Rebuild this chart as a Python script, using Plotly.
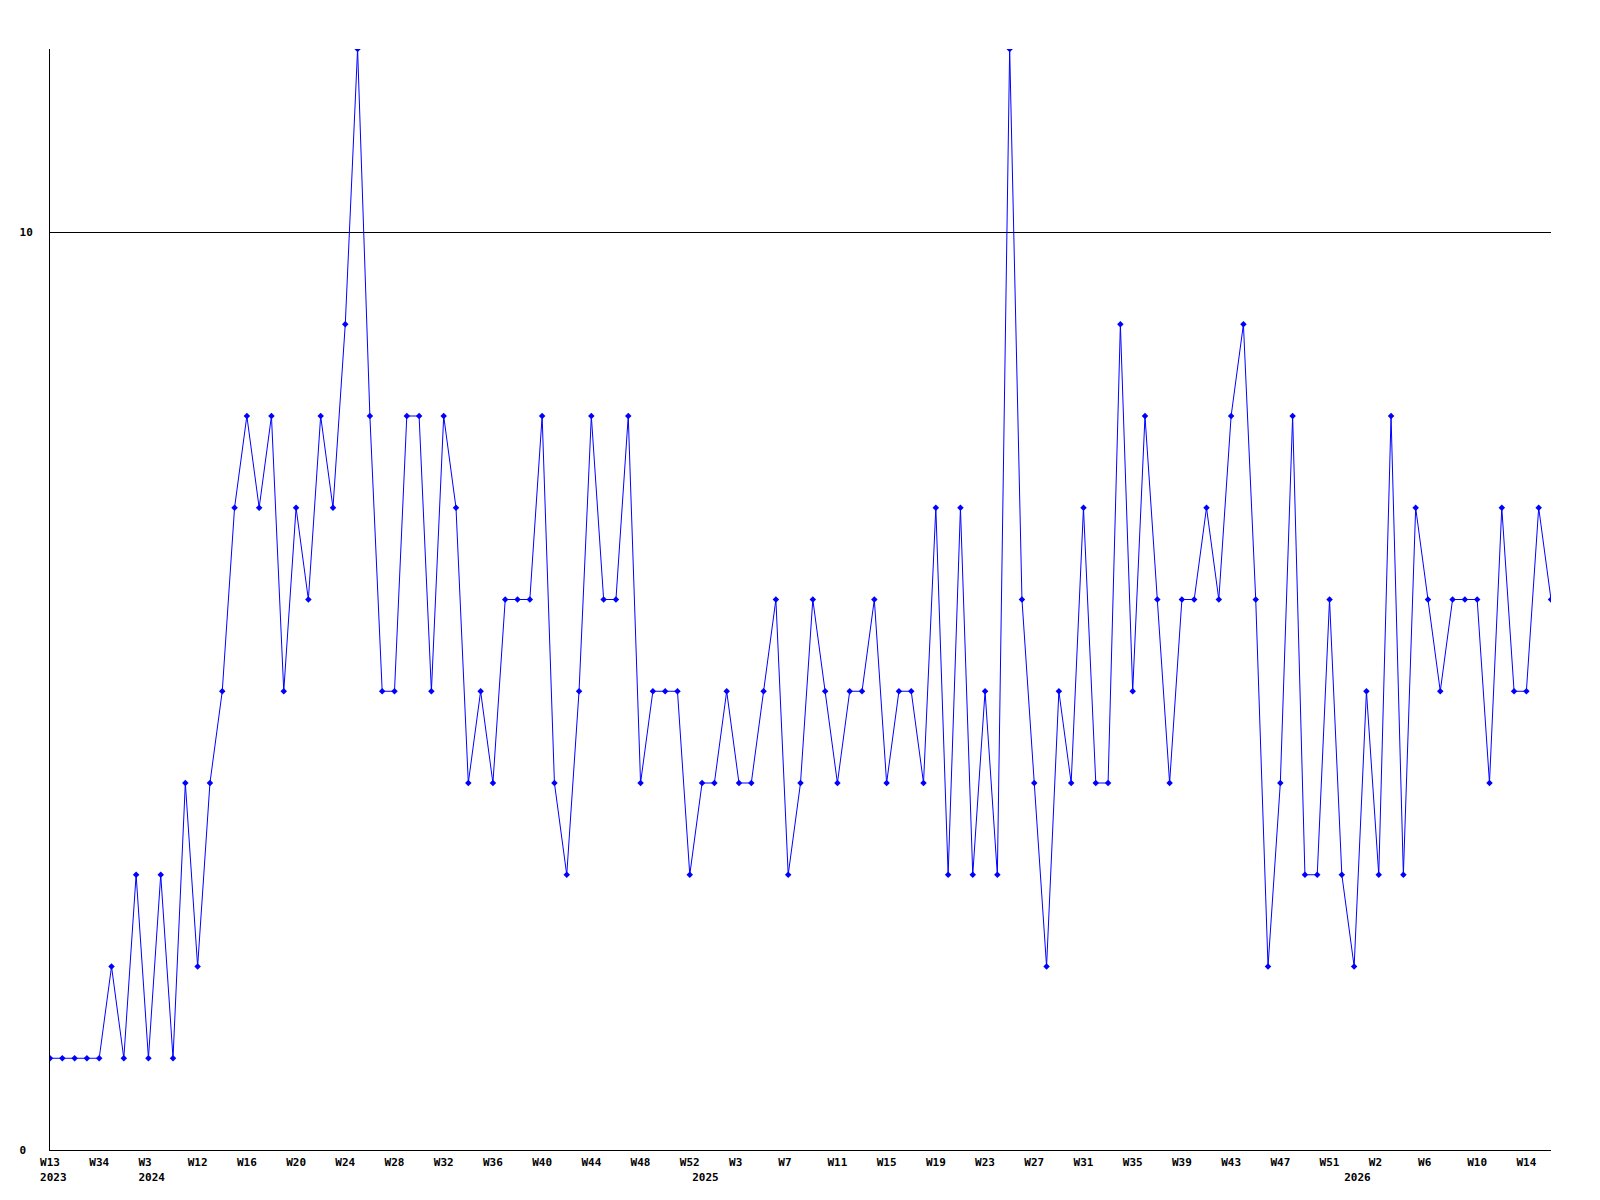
import plotly.graph_objects as go

# ---- data ----
early_weeks = ["2023-W13", "2023-W20", "2023-W26", "2023-W30", "2023-W34",
               "2023-W40", "2023-W45", "2023-W50", "2024-W3", "2024-W5",
               "2024-W8", "2024-W10"]
weeks_2024 = [f"2024-W{w}" for w in range(12, 53)]
weeks_2025 = [f"2025-W{w}" for w in range(0, 53)]
weeks_2026 = [f"2026-W{w}" for w in range(0, 17)]
categories = early_weeks + weeks_2024 + weeks_2025 + weeks_2026

values = [1, 1, 1, 1, 1, 2, 1, 3, 1, 3,
          1, 4, 2, 4, 5, 7, 8, 7, 8, 5,
          7, 6, 8, 7, 9, 12, 8, 5, 5, 8,
          8, 5, 8, 7, 4, 5, 4, 6, 6, 6,
          8, 4, 3, 5, 8, 6, 6, 8, 4, 5,
          5, 5, 3, 4, 4, 5, 4, 4, 5, 6,
          3, 4, 6, 5, 4, 5, 5, 6, 4, 5,
          5, 4, 7, 3, 7, 3, 5, 3, 12, 6,
          4, 2, 5, 4, 7, 4, 4, 9, 5, 8,
          6, 4, 6, 6, 7, 6, 8, 9, 6, 2,
          4, 8, 3, 3, 6, 3, 2, 5, 3, 8,
          3, 7, 6, 5, 6, 6, 6, 4, 7, 5,
          5, 7, 6]

y_tickvals = [0, 10]
y_ticktext = ["0\u00a0", "10"]

NB = "\u00a0"

# ---- x tick labels: every 4th week, plus first week of each new year ----
tickvals, ticktext = [], []
prev_year = None
for i, c in enumerate(categories):
    year, wk = c.split("-")
    new_year = year != prev_year
    prev_year = year
    if i % 4 == 0 or new_year:
        line1 = wk.ljust(3, NB) if i % 4 == 0 else NB
        text = line1
        if new_year:
            text += "<br>" + NB + year
        tickvals.append(c)
        ticktext.append(text)

font = dict(family="DejaVu Sans Mono", size=11, color="black", weight="bold")

fig = go.Figure()
fig.add_trace(go.Scatter(
    x=categories, y=values, mode="lines+markers",
    line=dict(color="#0000ff", width=1),
    marker=dict(symbol="diamond", size=5, color="#0000ff"),
    showlegend=False,
))

fig.update_layout(
    width=1592, height=1192,
    margin=dict(l=42, r=49, t=41, b=50),
    paper_bgcolor="white", plot_bgcolor="white",
    xaxis=dict(
        type="category", categoryorder="array", categoryarray=categories,
        range=[0, len(categories) - 1],
        tickmode="array", tickvals=tickvals, ticktext=ticktext,
        showline=True, linecolor="black", linewidth=1,
        showgrid=False, zeroline=False, ticks="",
        tickfont=font, tickangle=0, ticklabelstandoff=2,
    ),
    yaxis=dict(
        range=[0, 12],
        tickmode="array", tickvals=y_tickvals, ticktext=y_ticktext,
        showline=True, linecolor="black", linewidth=1,
        showgrid=True, gridcolor="black", gridwidth=1,
        zeroline=False, ticks="",
        tickfont=font, ticklabelstandoff=14,
    ),
)

fig.write_html("out.html")
